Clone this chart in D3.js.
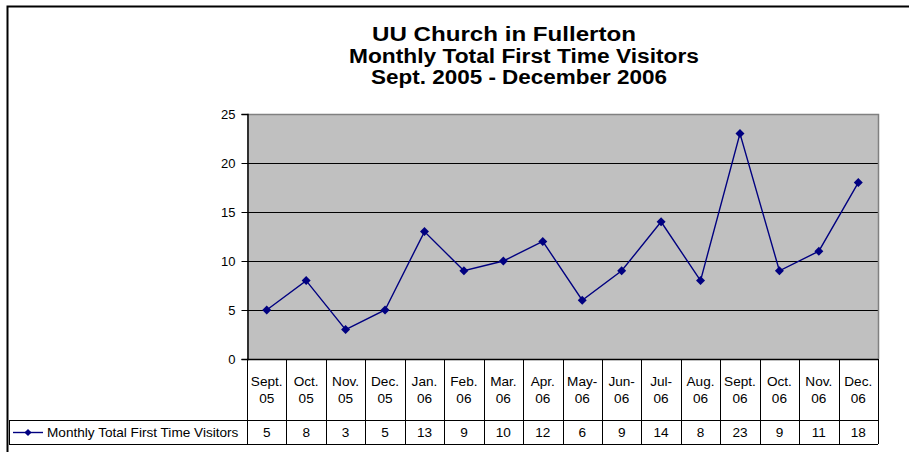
<!DOCTYPE html>
<html>
<head>
<meta charset="utf-8">
<script src="https://cdnjs.cloudflare.com/ajax/libs/d3/7.8.5/d3.min.js"></script>
<style>
  body { margin: 0; background: #fff; }
  text { font-family: "Liberation Sans", Arial, sans-serif; fill: #000; }
</style>
</head>
<body>
<svg width="909" height="452"></svg>
<script>
(function(d3) {
    "use strict";

    // month labels, two lines each, as shown in the data table
    var monthTop = ["Sept.", "Oct.", "Nov.", "Dec.", "Jan.", "Feb.", "Mar.", "Apr.",
                    "May-", "Jun-", "Jul-", "Aug.", "Sept.", "Oct.", "Nov.", "Dec."];
    var monthBottom = ["05", "05", "05", "05", "06", "06", "06", "06",
                       "06", "06", "06", "06", "06", "06", "06", "06"];
    var visitors = [5, 8, 3, 5, 13, 9, 10, 12, 6, 9, 14, 8, 23, 9, 11, 18];
    var yTicks = [0, 5, 10, 15, 20, 25];
    var seriesName = "Monthly Total First Time Visitors";
    var titleLines = ["UU Church in Fullerton", "Monthly Total First Time Visitors", "Sept. 2005 - December 2006"];

    var svg = d3.select("svg"),
        left = 247, right = 878, top = 114, bottom = 359,
        rowSplit = 420, tableBottom = 444, legendLeft = 9;

    var keys = d3.range(visitors.length);
    var x = d3.scaleBand().domain(keys).range([left, right]);
    var y = d3.scaleLinear().domain([0, 25]).range([bottom, top]);

    // outer chart border (only top and left fall inside the window)
    svg.append("path")
        .attr("d", "M7.5,452V6.5H909")
        .attr("fill", "none").attr("stroke", "#000").attr("stroke-width", 2);

    // titles (narrow bold face, as in the original)
    var titleX = [372, 349, 371],
        titleW = [264, 350, 296];
    svg.append("g").selectAll("text").data(titleLines).enter().append("text")
        .attr("x", function(d, i) { return titleX[i]; })
        .attr("y", function(d, i) { return 41 + i * 21.5; })
        .attr("font-size", "19.5px")
        .attr("font-weight", "bold")
        .attr("textLength", function(d, i) { return titleW[i]; })
        .attr("lengthAdjust", "spacingAndGlyphs")
        .text(function(d) { return d; });

    // plot area
    svg.append("rect")
        .attr("x", left).attr("y", top)
        .attr("width", right - left).attr("height", bottom - top)
        .attr("fill", "#c0c0c0");

    // gridlines
    svg.append("g").selectAll("line").data(yTicks.slice(1, -1)).enter().append("line")
        .attr("x1", left).attr("x2", right)
        .attr("y1", function(d) { return Math.round(y(d)) + 0.5; })
        .attr("y2", function(d) { return Math.round(y(d)) + 0.5; })
        .attr("stroke", "#000").attr("stroke-width", 1);

    // plot border top/right
    svg.append("path")
        .attr("d", "M" + left + "," + (top + 0.5) + "H" + (right + 0.5) + "V" + bottom)
        .attr("fill", "none").attr("stroke", "#808080").attr("stroke-width", 1.5);

    // y axis
    var yAxis = d3.axisLeft(y).tickValues(yTicks).tickSize(6).tickPadding(6);
    var ya = svg.append("g")
        .attr("transform", "translate(" + (left + 0.5) + ",0)")
        .call(yAxis);
    ya.select(".domain").attr("stroke", "#000").attr("stroke-width", 1.5);
    ya.selectAll(".tick line").attr("stroke", "#000");
    ya.selectAll(".tick text")
        .attr("font-family", "Liberation Sans, Arial, sans-serif")
        .attr("font-size", "13px").attr("fill", "#000");

    // data table grid
    var tbl = svg.append("g").attr("stroke", "#000").attr("stroke-width", 1).attr("fill", "none");
    tbl.append("line").attr("x1", left).attr("x2", right)
        .attr("y1", bottom + 0.5).attr("y2", bottom + 0.5).attr("stroke-width", 1.5);
    tbl.append("line").attr("x1", legendLeft).attr("x2", right)
        .attr("y1", rowSplit + 0.5).attr("y2", rowSplit + 0.5);
    tbl.append("line").attr("x1", legendLeft).attr("x2", right)
        .attr("y1", tableBottom + 0.5).attr("y2", tableBottom + 0.5);
    tbl.append("line").attr("x1", legendLeft + 0.5).attr("x2", legendLeft + 0.5)
        .attr("y1", rowSplit).attr("y2", tableBottom);
    tbl.selectAll("line.col").data(keys.concat([keys.length])).enter().append("line")
        .attr("class", "col")
        .attr("x1", function(d) { return Math.round(d < keys.length ? x(d) : right) + 0.5; })
        .attr("x2", function(d) { return Math.round(d < keys.length ? x(d) : right) + 0.5; })
        .attr("y1", bottom).attr("y2", tableBottom);

    var cells = svg.append("g").attr("font-size", "13.6px").attr("text-anchor", "middle");
    cells.selectAll("text.m1").data(keys).enter().append("text")
        .attr("x", function(d) { return x(d) + x.bandwidth() / 2; })
        .attr("y", 386)
        .text(function(d) { return monthTop[d]; });
    cells.selectAll("text.m2").data(keys).enter().append("text")
        .attr("x", function(d) { return x(d) + x.bandwidth() / 2; })
        .attr("y", 403)
        .text(function(d) { return monthBottom[d]; });
    cells.selectAll("text.v").data(keys).enter().append("text")
        .attr("x", function(d) { return x(d) + x.bandwidth() / 2; })
        .attr("y", 437)
        .text(function(d) { return visitors[d]; });

    // diamond marker, square turned 45 degrees
    var diamond = "M0,-4.5L4.5,0L0,4.5L-4.5,0Z";

    // legend key inside table
    var lg = svg.append("g");
    lg.append("line").attr("x1", 13).attr("x2", 43).attr("y1", 432.5).attr("y2", 432.5)
        .attr("stroke", "#000080").attr("stroke-width", 1.4);
    lg.append("path").attr("d", diamond)
        .attr("transform", "translate(28,432.5) scale(0.8)").attr("fill", "#000080");
    lg.append("text").attr("x", 47).attr("y", 437).attr("font-size", "13.6px").text(seriesName);

    // series line and markers
    var line = d3.line()
        .x(function(d) { return x(d) + x.bandwidth() / 2; })
        .y(function(d) { return y(visitors[d]); });
    svg.append("path").datum(keys)
        .attr("d", line)
        .attr("fill", "none").attr("stroke", "#000080").attr("stroke-width", 1.4);
    svg.append("g").selectAll("path").data(keys).enter().append("path")
        .attr("d", diamond)
        .attr("transform", function(d) {
            return "translate(" + (x(d) + x.bandwidth() / 2) + "," + y(visitors[d]) + ")";
        })
        .attr("fill", "#000080");

}(d3));
</script>
</body>
</html>
